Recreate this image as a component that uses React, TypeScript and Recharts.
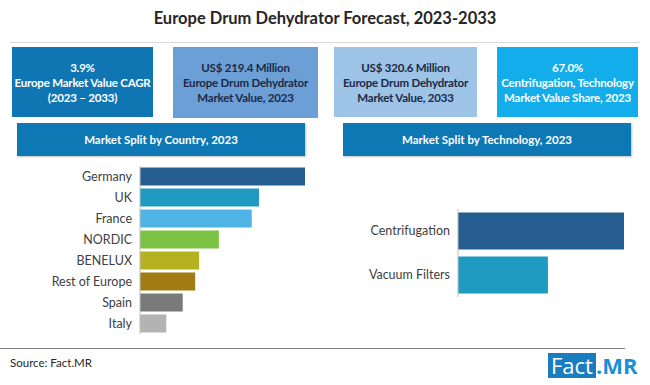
import React from 'react';
import { BarChart, Bar, Cell, XAxis, YAxis } from 'recharts';

// Country split, 2023 (share)
const countries = ['Germany', 'UK', 'France', 'NORDIC', 'BENELUX', 'Rest of Europe', 'Spain', 'Italy'];
const countryShare = [25.1, 18.1, 17.0, 12.0, 9.0, 8.4, 6.5, 4.0];
const countryColors = ['#265E91', '#1F9BC2', '#4FB3E5', '#7CC243', '#B4B31F', '#A07C12', '#7A7A7A', '#B3B3B3'];

// Technology split, 2023
const technologies = ['Centrifugation', 'Vacuum Filters'];
const techShare = [67.0, 36.3];
const techColors = ['#265E91', '#1F9BC2'];

// Key figures
const cardValues = ['3.9%', 'US$ 219.4 Million', 'US$ 320.6 Million', '67.0%'];
const cardLabels = [
    ['Europe Market Value CAGR', '(2023 – 2033)'],
    ['Europe Drum Dehydrator', 'Market Value, 2023'],
    ['Europe Drum Dehydrator', 'Market Value, 2033'],
    ['Centrifugation, Technology', 'Market Value Share, 2023'],
];

const FONT = 'Lato, "Open Sans", "Noto Sans", sans-serif';

const cardStyles = [
    { left: 12, top: 47, width: 141, height: 70, bg: '#1076B3', color: '#FFFFFF' },
    { left: 173, top: 47, width: 145, height: 71, bg: '#6B9FD6', color: '#1B2A47' },
    { left: 334, top: 47, width: 143, height: 70, bg: '#9DC3E6', color: '#1B2A47' },
    { left: 497, top: 47, width: 141, height: 70, bg: '#14ADEB', color: '#FFFFFF' },
];

const countryData = countries.map((name, i) => ({ name, value: countryShare[i] }));
const techData = technologies.map((name, i) => ({ name, value: techShare[i] }));

const Banner: React.FC<{ left: number; width: number; text: string }> = ({ left, width, text }) => (
    <div
        style={{
            position: 'absolute', left, top: 123, width, height: 33,
            background: '#0E78B5', color: '#fff', fontWeight: 700, fontSize: 11.5,
            display: 'flex', alignItems: 'center', justifyContent: 'center',
            boxShadow: '1px 1px 2px rgba(0,0,0,0.25)',
        }}
    >
        {text}
    </div>
);

export default function App() {
    return (
        <div style={{ position: 'fixed', left: 0, top: 0, width: 650, height: 385, background: '#fff', fontFamily: FONT, overflow: 'hidden' }}>
            <div style={{ position: 'absolute', left: 0, top: 8, width: 650, textAlign: 'center', fontSize: 16.5, fontWeight: 700, color: '#262626' }}>
                Europe Drum Dehydrator Forecast, 2023-2033
            </div>
            <div style={{ position: 'absolute', left: 10, top: 42, width: 630, height: 1, background: '#D9D9D9' }} />

            {cardStyles.map((c, i) => (
                <div
                    key={i}
                    style={{
                        position: 'absolute', left: c.left, top: c.top, width: c.width, height: c.height,
                        background: c.bg, color: c.color, fontWeight: 700, fontSize: 11.5, lineHeight: '15px',
                        letterSpacing: -0.2, whiteSpace: 'nowrap',
                        display: 'flex', flexDirection: 'column', alignItems: 'center', justifyContent: 'center', textAlign: 'center',
                    }}
                >
                    <div>{cardValues[i]}</div>
                    <div>{cardLabels[i][0]}</div>
                    <div>{cardLabels[i][1]}</div>
                </div>
            ))}

            <Banner left={17} width={288} text="Market Split by Country, 2023" />
            <Banner left={343} width={288} text="Market Split by Technology, 2023" />

            <div style={{ position: 'absolute', left: 0, top: 166 }}>
                <BarChart width={305} height={168} data={countryData} layout="vertical" margin={{ top: 0, right: 0, bottom: 0, left: 0 }} barCategoryGap="7%">
                    <XAxis type="number" hide domain={[0, 'dataMax']} />
                    <YAxis type="category" dataKey="name" width={140} tickLine={false} axisLine={{ stroke: '#BFBFBF' }} tick={{ fill: '#404040', fontSize: 12.5, fontFamily: FONT }} interval={0} />
                    <Bar dataKey="value" isAnimationActive={false}>
                        {countryData.map((d, i) => (
                            <Cell key={d.name} fill={countryColors[i]} />
                        ))}
                    </Bar>
                </BarChart>
            </div>

            <div style={{ position: 'absolute', left: 340, top: 209 }}>
                <BarChart width={284} height={88} data={techData} layout="vertical" margin={{ top: 0, right: 0, bottom: 0, left: 0 }} barCategoryGap="8%">
                    <XAxis type="number" hide domain={[0, 'dataMax']} />
                    <YAxis type="category" dataKey="name" width={118} tickLine={false} axisLine={{ stroke: '#BFBFBF' }} tick={{ fill: '#404040', fontSize: 12.5, fontFamily: FONT }} interval={0} />
                    <Bar dataKey="value" isAnimationActive={false}>
                        {techData.map((d, i) => (
                            <Cell key={d.name} fill={techColors[i]} />
                        ))}
                    </Bar>
                </BarChart>
            </div>

            <div style={{ position: 'absolute', left: 0, top: 348, width: 625, height: 1, background: '#7F7F7F' }} />
            <div style={{ position: 'absolute', left: 10, top: 356, fontSize: 11.5, color: '#262626' }}>Source: Fact.MR</div>
            <div style={{ position: 'absolute', left: 548, top: 353, height: 25, display: 'flex', alignItems: 'center', fontSize: 22, fontFamily: '"Open Sans", Lato, sans-serif' }}>
                <span style={{ background: '#1A7DBF', color: '#fff', padding: '0 3px', lineHeight: '25px' }}>Fact</span>
                <span style={{ color: '#1A8FD8', fontWeight: 700, lineHeight: '25px' }}>.MR</span>
            </div>
        </div>
    );
}
